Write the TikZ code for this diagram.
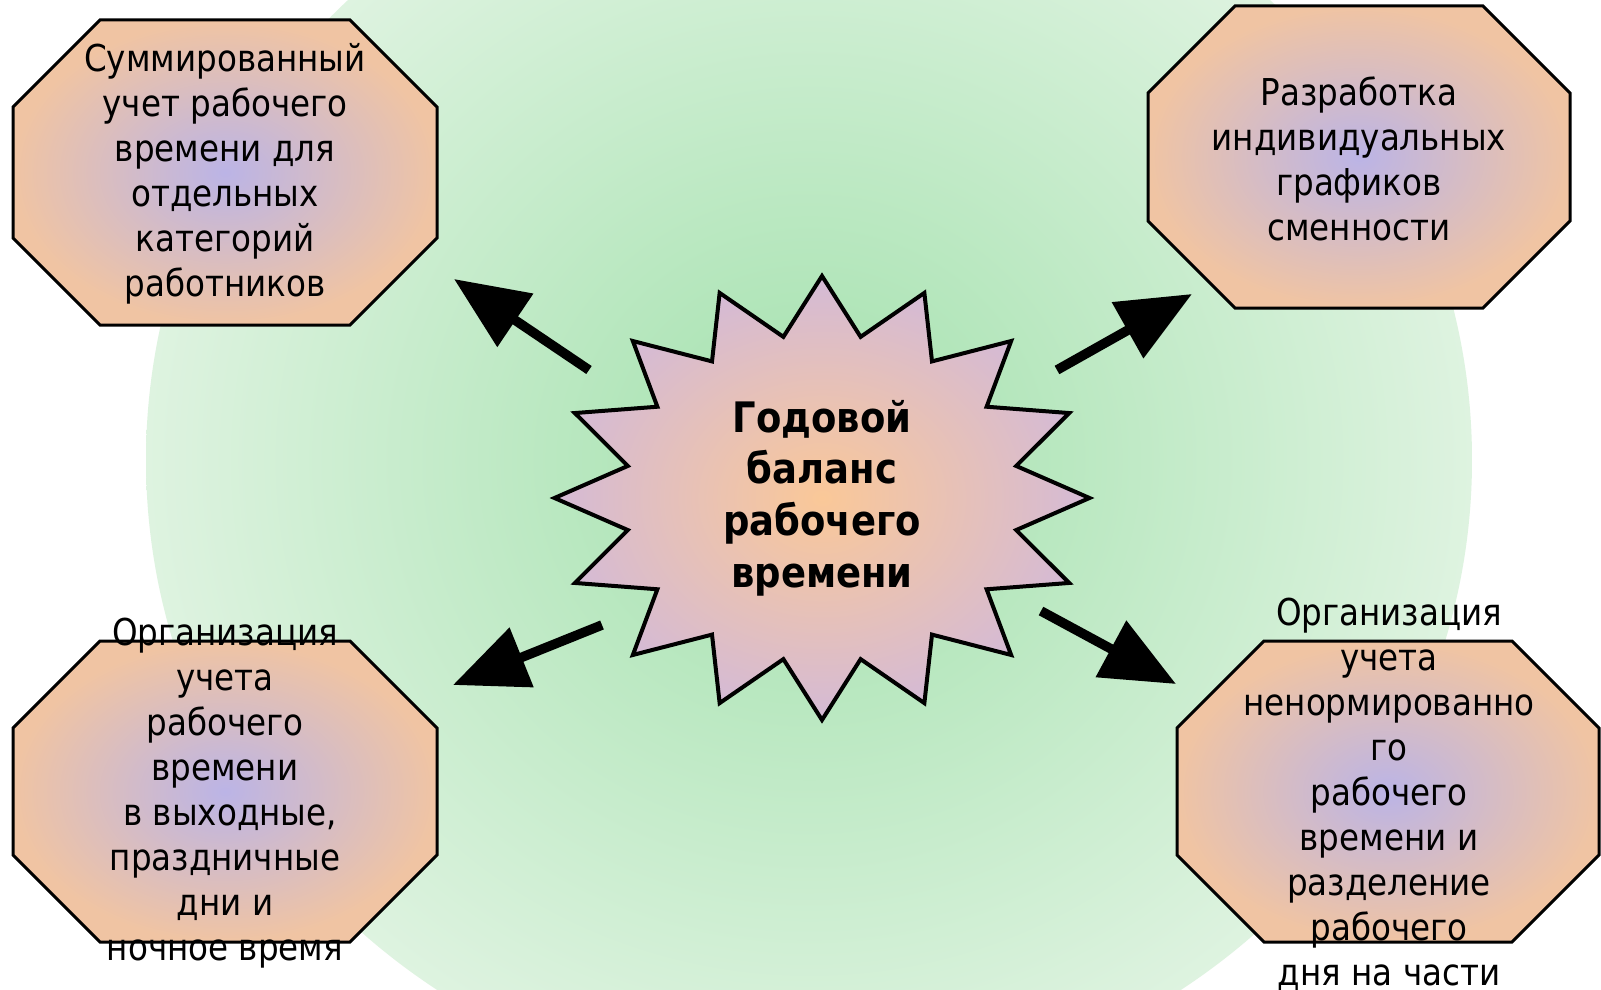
\documentclass[tikz,border=0pt]{standalone}
\usepackage{fontspec}
\setmainfont{DejaVu Sans}[FakeStretch=0.88]
\usetikzlibrary{arrows.meta}
\definecolor{peach}{RGB}{240,196,163}
\definecolor{lav}{RGB}{187,180,230}
\definecolor{starin}{RGB}{250,200,152}
\definecolor{starout}{RGB}{212,186,214}
\definecolor{grin}{RGB}{163,225,173}
\definecolor{grout}{RGB}{222,243,224}
\tikzset{
  octa/.style={draw=black, line width=1.5pt, inner color=lav, outer color=peach},
  starsty/.style={draw=black, line width=2pt, line join=miter, inner color=starin, outer color=starout},
  boxtext/.style={inner sep=0pt, align=center, font=\fontsize{18.5}{22.5}\selectfont},
  centertext/.style={inner sep=0pt, align=center, font=\fontsize{21}{25.8}\selectfont\bfseries},
  arr/.style={line width=4.8pt, -{Triangle[length=37pt,width=31pt]}}
}
\begin{document}
\begin{tikzpicture}[x=0.5pt,y=-0.5pt]
\useasboundingbox (0,0) rectangle (1601,990);
\fill[white] (0,0) rectangle (1601,990);
\begin{scope}
  \clip (0,0) rectangle (1601,990);
  \path[inner color=grin, outer color=grout] (809,460) ellipse [x radius=663, y radius=640];
\end{scope}
% octagons
\foreach \xa/\ya/\xb/\yb in {13/20/437/325, 1148/6/1570/308, 13/641/437/942, 1177/641/1599/942}
  \path[octa] (\xa+87,\ya) -- (\xb-87,\ya) -- (\xb,\ya+87) -- (\xb,\yb-87) -- (\xb-87,\yb) -- (\xa+87,\yb) -- (\xa,\yb-87) -- (\xa,\ya+87) -- cycle;
% arrows
\coordinate (a1s) at (589,370); \coordinate (a1e) at (454,279);
\coordinate (a2s) at (1057,370); \coordinate (a2e) at (1192,294);
\coordinate (a3s) at (602,625); \coordinate (a3e) at (453,685);
\coordinate (a4s) at (1041,611); \coordinate (a4e) at (1176,684);
\draw[arr] (a1s) -- (a1e);
\draw[arr] (a2s) -- (a2e);
\draw[arr] (a3s) -- (a3e);
\draw[arr] (a4s) -- (a4e);
% star
\begin{scope}[shift={(822,498)}]
  \path[starsty] (90:267.5 and 222)
    \foreach \k in {0,...,15} { -- ({101.25+22.5*\k}:198 and 164.3) -- ({112.5+22.5*\k}:267.5 and 222) } -- cycle;
\end{scope}
\node[centertext] (star) at (822,498) {Годовой\\баланс\\рабочего\\времени};
% texts
\node[boxtext] (tl) at (225,173.5) {Суммированный\\учет рабочего\\времени для\\отдельных\\категорий\\работников};
\node[boxtext] (tr) at (1359,159) {Разработка\\индивидуальных\\графиков\\сменности};
\node[boxtext] (bl) at (225,793) {Организация\\учета\\рабочего\\времени\\\ в выходные,\\праздничные\\дни и\\ночное время};
\node[boxtext] (br) at (1389,794) {Организация\\учета\\ненормированно\\го\\рабочего\\времени и\\разделение\\рабочего\\дня на части};
\end{tikzpicture}
\end{document}
